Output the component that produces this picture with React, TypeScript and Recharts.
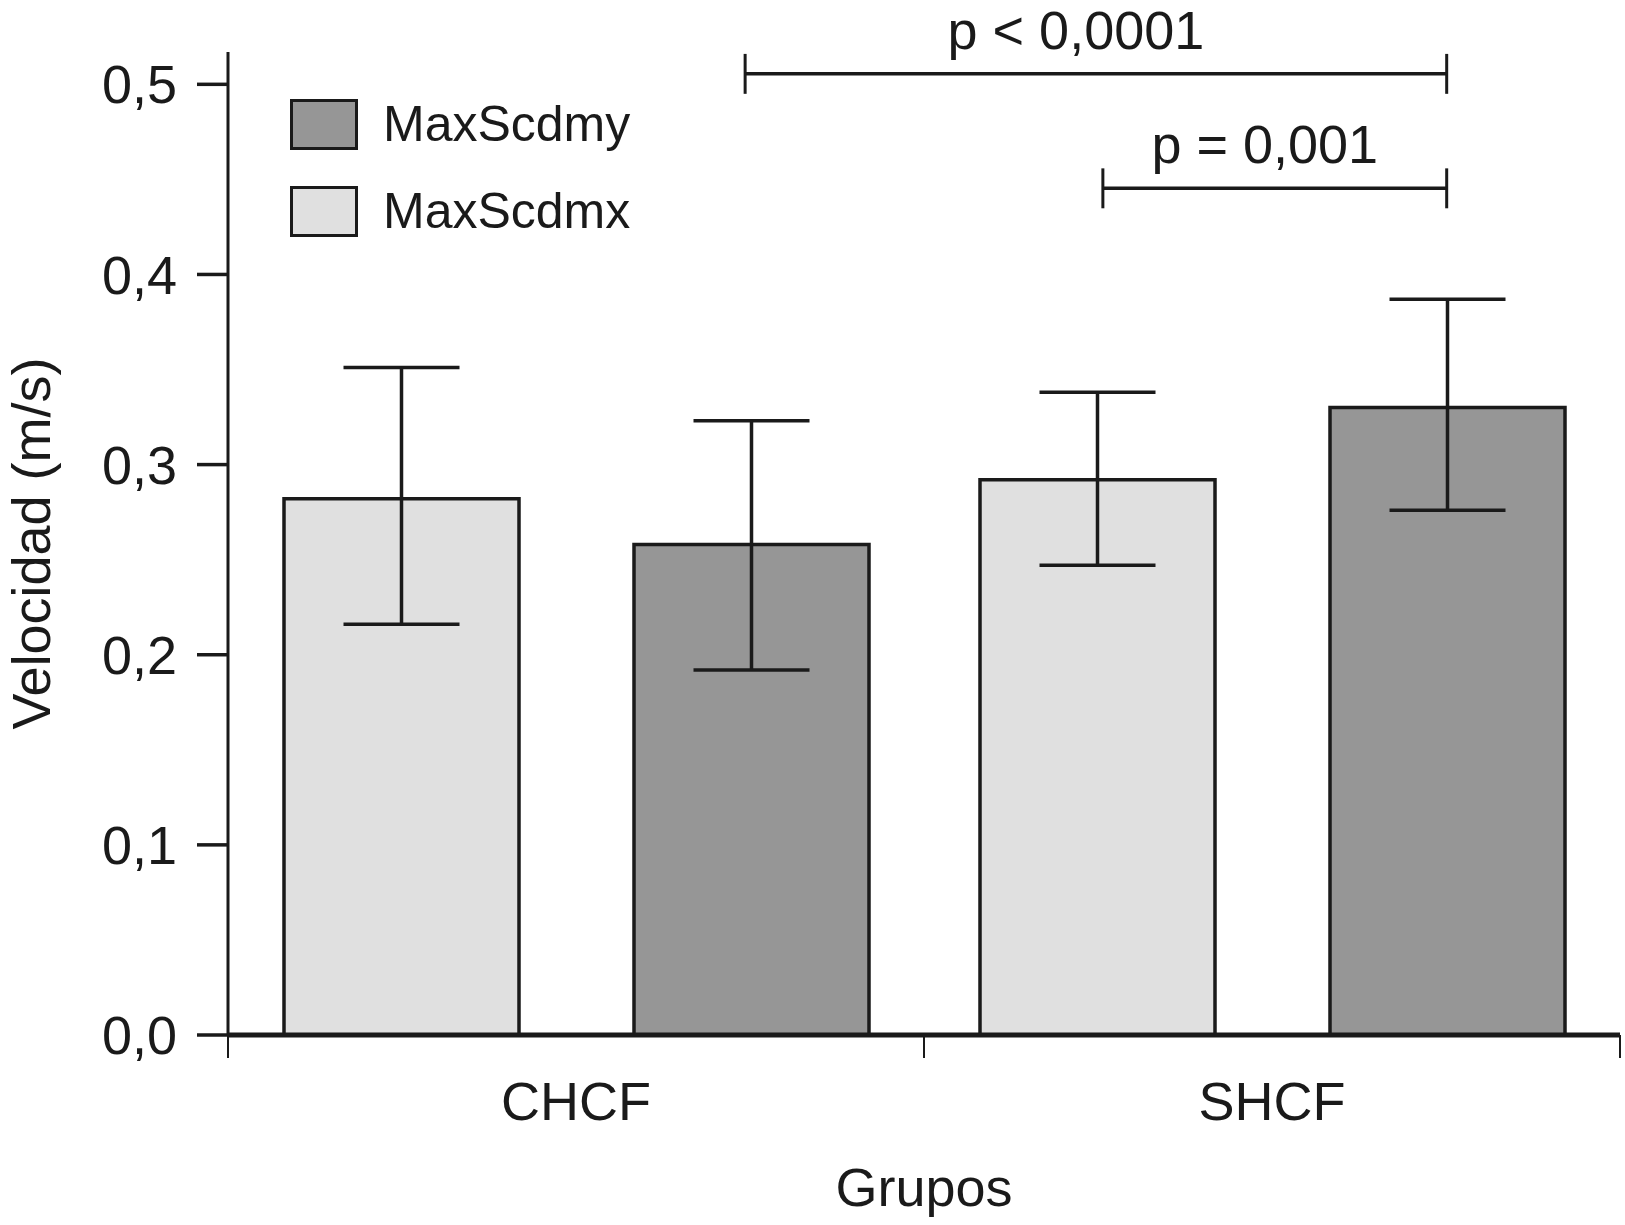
import { BarChart, Bar, XAxis, YAxis, ErrorBar, Legend, ReferenceLine } from "recharts";

const categories = ['CHCF', 'SHCF'];
const maxScdmx = [0.282, 0.292];
const maxScdmy = [0.258, 0.33];
// [below, above] error for each group
const maxScdmxErr = [[0.066, 0.069], [0.045, 0.046]];
const maxScdmyErr = [[0.066, 0.065], [0.054, 0.057]];
const yTicks = [0, 0.1, 0.2, 0.3, 0.4, 0.5];
// group index units: group i spans [i - 0.5, i + 0.5]
const groupEdges = [-0.5, 0.5, 1.5];
const bracketFrom = [0.243, 0.757];
const bracketTo = [1.251, 1.251];
const bracketY = [0.5055, 0.4453];
const bracketText = ['p < 0,0001', 'p = 0,001'];

const data = categories.map((name, i) => ({
  name,
  idx: i,
  MaxScdmx: maxScdmx[i],
  errX: maxScdmxErr[i],
  MaxScdmy: maxScdmy[i],
  errY: maxScdmyErr[i],
}));

const INK = '#1a1a1a';
const FONT = '"Liberation Sans", Arial, sans-serif';
const labelDx = [-20, -10];

const fmt = (v: number) => v.toFixed(1).replace('.', ',');

function LegendBox(props: any) {
  const items = [...(props.payload || [])].reverse();
  return (
    <div style={{ fontFamily: FONT }}>
      {items.map((it: any) => (
        <div key={it.value} style={{ display: 'flex', alignItems: 'center', height: 51, marginBottom: 36 }}>
          <div style={{ width: 62, height: 45, border: `3px solid ${INK}`, background: it.color }} />
          <span style={{ fontSize: 50, color: INK, marginLeft: 25, lineHeight: '51px' }}>{it.value}</span>
        </div>
      ))}
    </div>
  );
}

export default function App() {
  return (
    <div>
      <style>{`body{margin:0}`}</style>
      <BarChart
        width={1625}
        height={1225}
        data={data}
        margin={{ top: 52, right: 5, bottom: 0, left: 0 }}
        barSize={235}
        barGap={115}
        style={{ fontFamily: FONT }}
      >
        <XAxis
          dataKey="name"
          height={190}
          tickLine={false}
          tickSize={0}
          tickMargin={47}
          axisLine={{ stroke: INK, strokeWidth: 5 }}
          tick={{ fill: INK, fontSize: 54 }}
          label={{ value: 'Grupos', position: 'insideBottom', offset: 19, fill: INK, fontSize: 54 }}
        />
        <XAxis xAxisId="num" dataKey="idx" type="number" domain={[-0.5, 1.5]} allowDataOverflow hide />
        <YAxis
          width={228}
          domain={[0, 0.517]}
          ticks={yTicks}
          allowDataOverflow
          tickFormatter={fmt}
          tickSize={31}
          tickMargin={20}
          axisLine={{ stroke: INK, strokeWidth: 3 }}
          tickLine={{ stroke: INK, strokeWidth: 3.5 }}
          tick={{ fill: INK, fontSize: 54 }}
          label={{ value: 'Velocidad (m/s)', angle: -90, position: 'center', dx: -83, fill: INK, fontSize: 54 }}
        />
        <Legend
          layout="horizontal"
          verticalAlign="middle"
          align="center"
          wrapperStyle={{ position: 'absolute', left: 290, top: 99, width: 'auto' }}
          content={<LegendBox />}
        />
        <Bar dataKey="MaxScdmx" fill="#e0e0e0" stroke={INK} strokeWidth={3.5} isAnimationActive={false}>
          <ErrorBar dataKey="errX" width={58} stroke={INK} strokeWidth={3.5} isAnimationActive={false} />
        </Bar>
        <Bar dataKey="MaxScdmy" fill="#969696" stroke={INK} strokeWidth={3.5} isAnimationActive={false}>
          <ErrorBar dataKey="errY" width={58} stroke={INK} strokeWidth={3.5} isAnimationActive={false} />
        </Bar>
        {groupEdges.map((g) => (
          <ReferenceLine
            key={`edge-${g}`}
            xAxisId="num"
            segment={[{ x: g, y: 0 }, { x: g, y: -0.0121 }]}
            stroke={INK}
            strokeWidth={2}
            ifOverflow="visible"
          />
        ))}
        {bracketText.map((t, i) => (
          <ReferenceLine
            key={`br-${i}`}
            xAxisId="num"
            segment={[{ x: bracketFrom[i], y: bracketY[i] }, { x: bracketTo[i], y: bracketY[i] }]}
            stroke={INK}
            strokeWidth={3.5}
            ifOverflow="visible"
            label={(p: any) => (
              <text
                x={p.viewBox.x + p.viewBox.width / 2 + labelDx[i]}
                y={p.viewBox.y - 25}
                textAnchor="middle"
                fill={INK}
                fontSize={54}
                fontFamily={FONT}
              >
                {t}
              </text>
            )}
          />
        ))}
        {bracketText.map((t, i) =>
          [bracketFrom[i], bracketTo[i]].map((x, j) => (
            <ReferenceLine
              key={`tk-${i}-${j}`}
              xAxisId="num"
              segment={[{ x, y: bracketY[i] - 0.0105 }, { x, y: bracketY[i] + 0.0105 }]}
              stroke={INK}
              strokeWidth={3}
              ifOverflow="visible"
            />
          ))
        )}
      </BarChart>
    </div>
  );
}
